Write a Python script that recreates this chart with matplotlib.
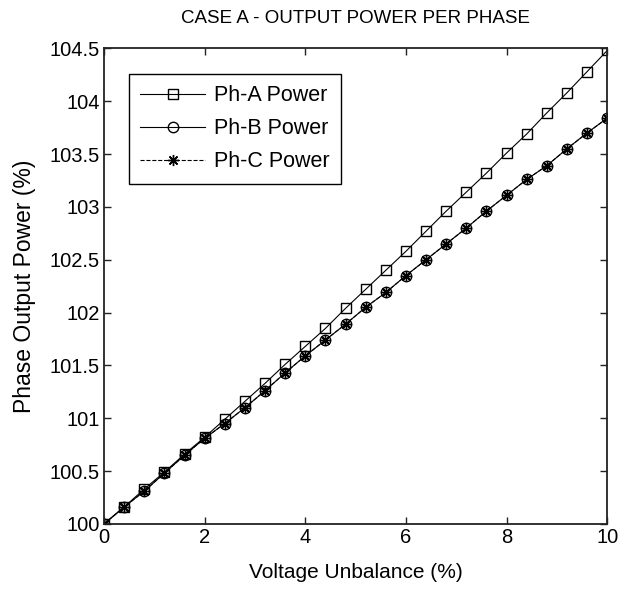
import numpy as np
import matplotlib
matplotlib.use("Agg")
import matplotlib.pyplot as plt

plt.rcParams['font.family'] = ['Liberation Sans', 'DejaVu Sans']

# voltage unbalance (%)
unbalance = [0, 0.4, 0.8, 1.2, 1.6, 2.0, 2.4, 2.8, 3.2, 3.6, 4.0, 4.4, 4.8,
             5.2, 5.6, 6.0, 6.4, 6.8, 7.2, 7.6, 8.0, 8.4, 8.8, 9.2, 9.6, 10.0]

# output power per phase (%)
ph_a = [100.00, 100.16, 100.33, 100.49, 100.66, 100.82, 100.99, 101.16, 101.33,
        101.51, 101.68, 101.85, 102.04, 102.22, 102.40, 102.58, 102.77, 102.96,
        103.14, 103.32, 103.51, 103.69, 103.89, 104.08, 104.28, 104.48]
ph_b = [100.00, 100.16, 100.31, 100.48, 100.65, 100.81, 100.95, 101.10, 101.26,
        101.43, 101.59, 101.74, 101.89, 102.05, 102.19, 102.35, 102.50, 102.65,
        102.80, 102.96, 103.11, 103.26, 103.39, 103.55, 103.70, 103.84]
ph_c = [100.00, 100.16, 100.31, 100.48, 100.65, 100.81, 100.95, 101.10, 101.26,
        101.43, 101.59, 101.74, 101.89, 102.05, 102.19, 102.35, 102.50, 102.65,
        102.80, 102.96, 103.11, 103.26, 103.39, 103.55, 103.70, 103.84]

fig = plt.figure(figsize=(6.19, 5.90), dpi=100)
ax = fig.add_axes([0.168, 0.112, 0.813, 0.806])

ax.plot(unbalance, ph_a, '-', color='k', lw=0.8, marker='s', ms=7.5,
        mfc='none', mec='k', mew=1.0, label='Ph-A Power')
ax.plot(unbalance, ph_b, '-', color='k', lw=0.8, marker='o', ms=7.5,
        mfc='none', mec='k', mew=1.0, label='Ph-B Power')
ax.plot(unbalance, ph_c, '--', color='k', lw=0.8, marker=(8, 2, 0), ms=8,
        mfc='k', mec='k', mew=1.0, label='Ph-C Power')

ax.set_xlim(0, 10)
ax.set_ylim(100, 104.5)
ax.set_xticks(np.arange(0, 10.1, 2))
ax.set_yticks(np.arange(100, 104.51, 0.5))
ax.set_yticklabels(['%g' % v for v in np.arange(100, 104.51, 0.5)])
ax.tick_params(direction='in', top=True, right=True, length=5, width=1,
               labelsize=14.5, pad=3, colors='#222222', labelcolor='k')
for s in ax.spines.values():
    s.set_linewidth(1.3)
    s.set_color('#222222')

ax.set_xlabel('Voltage Unbalance (%)', fontsize=15, labelpad=11.5)
ax.set_ylabel('Phase Output Power (%)', fontsize=16.5, labelpad=10)
ax.set_title('CASE A - OUTPUT POWER PER PHASE', fontsize=13.5, pad=18)

leg = ax.legend(loc='upper left', bbox_to_anchor=(0.049, 0.947), fontsize=15.5,
                handlelength=3.0, handletextpad=0.4, labelspacing=0.55,
                borderpad=0.55, borderaxespad=0, fancybox=False, framealpha=1)
leg.get_frame().set_edgecolor('k')
leg.get_frame().set_linewidth(1.0)

fig.savefig('out.png', dpi=100)
